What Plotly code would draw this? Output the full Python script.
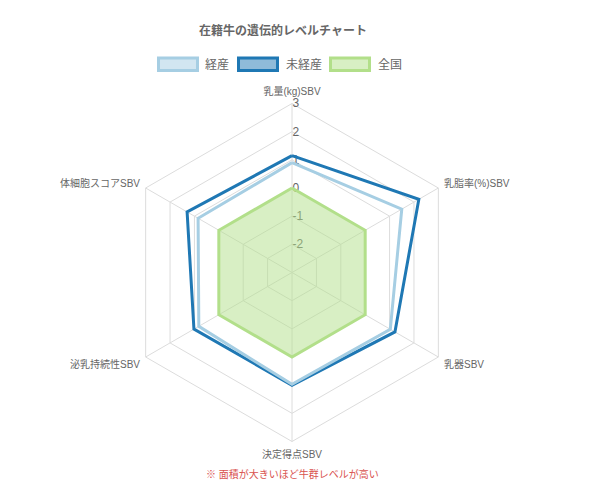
import plotly.graph_objects as go

categories = ["乳量(kg)SBV", "乳脂率(%)SBV", "乳器SBV", "決定得点SBV", "泌乳持続性SBV", "体細胞スコアSBV"]
keisan = [0.9, 1.5, 1.03, 0.97, 0.82, 0.85]      # 経産
mikeisan = [1.15, 2.2, 1.22, 1.0, 1.02, 1.3]     # 未経産
zenkoku = [0, 0, 0, 0, 0, 0]                     # 全国
tick_vals = [3, 2, 1, 0, -1, -2]
tick_text = ["3", "2", "1", "0", "-1", "-2"]
series_names = ["経産", "未経産", "全国"]
title_text = "在籍牛の遺伝的レベルチャート"
note_text = "※ 面積が大きいほど牛群レベルが高い"

W, H = 600, 498
FONT = "Liberation Sans, Arial, Noto Sans CJK JP, sans-serif"
GREY = "#666666"
GRID = "#dcdcdc"

line_cols = ["#a6cee3", "#1f78b4", "#b2df8a"]
box_fill = ["rgba(166,206,227,0.5)", "rgba(31,120,180,0.5)", "rgba(178,223,138,0.5)"]


def px(x):
    return x / W


def py(y):
    return 1 - y / H


def closed(v):
    return list(v) + [v[0]]


theta_c = closed(categories)

fig = go.Figure()

fig.add_trace(go.Scatterpolar(
    r=closed(zenkoku), theta=theta_c, name=series_names[2], mode="lines+markers",
    fill="toself", fillcolor="rgba(178,223,138,0.5)",
    line=dict(color=line_cols[2], width=3), marker=dict(size=6, color=line_cols[2]),
    showlegend=False))
fig.add_trace(go.Scatterpolar(
    r=closed(mikeisan), theta=theta_c, name=series_names[1], mode="lines+markers",
    line=dict(color=line_cols[1], width=3), marker=dict(size=6, color=line_cols[1]),
    showlegend=False))
fig.add_trace(go.Scatterpolar(
    r=closed(keisan), theta=theta_c, name=series_names[0], mode="lines+markers",
    line=dict(color=line_cols[0], width=3), marker=dict(size=6, color=line_cols[0]),
    showlegend=False))

cx, cy, R = 292, 272.5, 169
fig.update_layout(
    width=W, height=H,
    margin=dict(l=0, r=0, t=0, b=0),
    paper_bgcolor="white",
    font=dict(family=FONT, color=GREY),
    title=dict(text="<b>" + title_text + "</b>", x=px(283), y=py(31),
               xanchor="center", yanchor="middle", xref="paper", yref="container",
               font=dict(size=12, color=GREY, family=FONT)),
    polar=dict(
        domain=dict(x=[px(cx - R), px(cx + R)], y=[py(cy + R), py(cy - R)]),
        bgcolor="white",
        gridshape="linear",
        radialaxis=dict(range=[-3, 3], tickvals=tick_vals, ticktext=tick_text,
                        showticklabels=True, angle=90, tickangle=90,
                        tickfont=dict(size=12, color=GREY, family=FONT),
                        ticks="", showline=False, gridcolor=GRID, gridwidth=1,
                        layer="below traces"),
        angularaxis=dict(rotation=90, direction="clockwise", gridcolor=GRID,
                         linecolor=GRID, showline=True, ticks="outside", ticklen=4,
                         tickcolor="rgba(0,0,0,0)",
                         tickfont=dict(size=10, color=GREY, family=FONT),
                         layer="below traces"),
    ),
)

# legend (drawn as swatches + labels)
legend_boxes = [(157, 199), (237, 279), (329, 371)]
text_x = [203, 284, 375.5]
shapes = []
annos = []
for i in range(3):
    x0, x1 = legend_boxes[i]
    shapes.append(dict(type="rect", xref="paper", yref="paper",
                       x0=px(x0 + 1.5), x1=px(x1 - 1.5), y0=py(70.5), y1=py(58),
                       line=dict(color=line_cols[i], width=3), fillcolor=box_fill[i]))
    annos.append(dict(text=series_names[i], x=px(text_x[i]), y=py(64.5), xref="paper", yref="paper",
                      xanchor="left", yanchor="middle", showarrow=False,
                      font=dict(size=12, color=GREY, family=FONT)))
annos.append(dict(text=note_text, x=px(292), y=py(474), xref="paper", yref="paper",
                  xanchor="center", yanchor="middle", showarrow=False,
                  font=dict(size=10, color="#d9534f", family=FONT)))
fig.update_layout(shapes=shapes, annotations=annos)

fig.write_html("out.html")
